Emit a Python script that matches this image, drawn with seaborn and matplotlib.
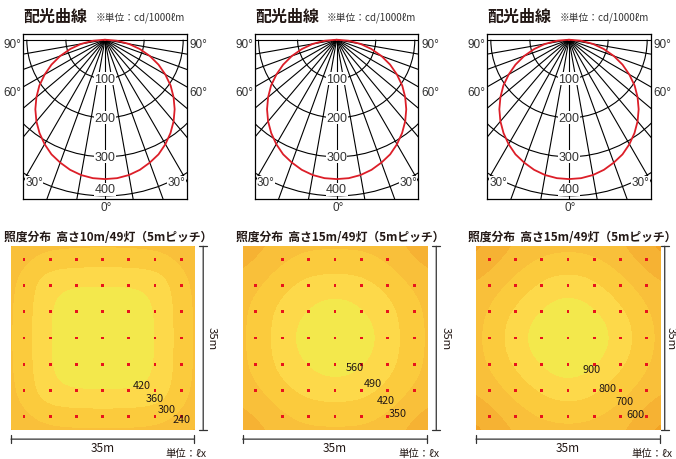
import numpy as np
import pandas as pd
import matplotlib
matplotlib.use("Agg")
import matplotlib.pyplot as plt
import seaborn as sns
from matplotlib.colors import ListedColormap, BoundaryNorm
from matplotlib.patches import Arc

# ---- 配光曲線 data (cd/1000lm), angle from straight down ----
angles = [0, 5, 10, 15, 20, 25, 30, 35, 40, 45, 50, 55, 60, 65, 70, 75, 80, 85, 90]
intensity = [357, 356, 352, 345, 335, 324, 309, 292, 273, 252, 229, 205, 178, 151, 122, 92, 62, 31, 0]
rings = [100, 200, 300, 400]
spokes = list(range(-90, 91, 10))

# ---- 照度分布 data (lx) ----
# lamps on a 5m pitch, lux read every 5m (x = 0,5,10,15 / y = 0,5,10,15), square is symmetric
lamp_pos = [2.5, 7.5, 12.5, 17.5, 22.5, 27.5, 32.5]
lux_10m = [[220, 270, 278, 280],
           [270, 365, 378, 382],
           [278, 378, 450, 455],
           [280, 382, 455, 470]]
lux_15m = [[300, 347, 395, 400],
           [347, 412, 472, 487],
           [395, 472, 520, 567],
           [400, 487, 567, 610]]
lux_15m_b = [[450, 560, 640, 660],
             [560, 652, 732, 793],
             [640, 732, 825, 915],
             [660, 793, 915, 980]]
levels_10m = [240, 300, 360, 420]
levels_15m = [350, 420, 490, 560]
levels_15m_b = [500, 600, 700, 800, 900]
label_text_10m = ["420", "360", "300", "240"]
label_text_15m = ["560", "490", "420", "350"]
label_text_15m_b = ["900", "800", "700", "600"]
label_xy_10m = [(25.0, 26.4), (27.4, 29.0), (29.7, 31.1), (32.5, 33.0)]
label_xy_15m = [(21.3, 23.0), (24.6, 26.1), (27.2, 29.4), (29.4, 31.8)]
label_xy_15m_b = [(22.0, 23.5), (25.1, 27.0), (28.2, 29.6), (30.4, 32.0)]
map_titles = ["照度分布  高さ10m/49灯（5mピッチ）",
              "照度分布  高さ15m/49灯（5mピッチ）",
              "照度分布  高さ15m/49灯（5mピッチ）"]

band_colors = ["#F3A325", "#F6B233", "#F9C03A", "#FBCB3D", "#FDD94A", "#F3E84C"]
red = "#DC1E28"
ink = "#231815"
latin = ["Liberation Sans", "DejaVu Sans"]

sns.set_theme(style="white")
plt.rcParams["font.family"] = ["Noto Sans CJK JP", "DejaVu Sans"]

W, H = 676, 460
fig = plt.figure(figsize=(W / 100, H / 100), dpi=100)


def px_axes(x0, y0, x1, y1):
    return fig.add_axes([x0 / W, 1 - y1 / H, (x1 - x0) / W, (y1 - y0) / H])


def draw_polar(ax):
    ax.set_xlim(-209, 209)
    ax.set_ylim(-408, 14.6)
    for a in spokes:
        t = np.radians(a)
        ax.plot([0, 1000 * np.sin(t)], [0, -1000 * np.cos(t)], color="black", lw=0.8, zorder=1)
    for r in rings:
        ax.add_patch(Arc((0, 0), 2 * r, 2 * r, theta1=180, theta2=360, color="black", lw=0.8, zorder=1))
    # red curve, mirrored for both sides
    th = np.radians([-a for a in angles[::-1]] + angles[1:])
    rr = np.array(intensity[::-1] + intensity[1:])
    curve = pd.DataFrame({"x": rr * np.sin(th), "y": -rr * np.cos(th)})
    sns.lineplot(data=curve, x="x", y="y", sort=False, estimator=None, color=red, lw=1.3, ax=ax, zorder=3)
    for r in rings:
        ax.text(0, -min(r, 383), str(r), ha="center", va="center", fontsize=9, color="#333333",
                family=latin, bbox=dict(facecolor="white", edgecolor="none", pad=0.3), zorder=4)
    lab = dict(fontsize=8.5, color="#333333", ha="center", va="center", clip_on=False, family=latin)
    ax.text(-236, -11, "90°", **lab)
    ax.text(240, -11, "90°", **lab)
    ax.text(-236, -135, "60°", **lab)
    ax.text(240, -135, "60°", **lab)
    ax.text(-181, -365, "30°", bbox=dict(facecolor="white", edgecolor="none", pad=0.2), zorder=4, **lab)
    ax.text(183, -365, "30°", bbox=dict(facecolor="white", edgecolor="none", pad=0.2), zorder=4, **lab)
    ax.text(3, -428, "0°", **lab)
    ax.set(xlabel="", ylabel="", xticks=[], yticks=[])
    for s in ax.spines.values():
        s.set_visible(True)
        s.set_color("black")
        s.set_linewidth(0.9)


def draw_map(ax, quarter, levels, texts, text_xy, skip_corners=False, line_x=36.7, label_x=38.4):
    q = np.array(quarter, float)
    half = np.vstack([q, q[::-1]])
    grid = np.hstack([half, half[:, ::-1]])
    cols = band_colors[-(len(levels) + 1):]
    cmap = ListedColormap(cols)
    norm = BoundaryNorm([0] + levels + [5000], cmap.N)
    ax.imshow(grid, cmap=cmap, norm=norm, interpolation="bicubic", interpolation_stage="data",
              extent=(-2.5, 37.5, 37.5, -2.5), aspect="auto")
    lx, ly = np.meshgrid(lamp_pos, lamp_pos)
    lx, ly = lx.ravel(), ly.ravel()
    if skip_corners:
        keep = ~(np.isin(lx, [2.5, 32.5]) & np.isin(ly, [2.5, 32.5]))
        lx, ly = lx[keep], ly[keep]
    sns.scatterplot(x=lx, y=ly, marker="s", s=4, color="#E8141C", edgecolor="none", ax=ax, zorder=3)
    for s, (x, y) in zip(texts, text_xy):
        ax.text(x, y, s, ha="center", va="center", fontsize=7.8, color=ink, zorder=4)
    ax.set_xlim(0, 35)
    ax.set_ylim(35, 0)
    ax.set(xlabel="", ylabel="")
    ax.set_axis_off()
    dim = dict(arrowstyle="|-|,widthA=0.3,widthB=0.3", lw=0.9, color="#333333",
               shrinkA=0, shrinkB=0, mutation_scale=10)
    ax.annotate("", xy=(0, 36.8), xytext=(35, 36.8), arrowprops=dim, annotation_clip=False)
    ax.annotate("", xy=(line_x, 0), xytext=(line_x, 35), arrowprops=dim, annotation_clip=False)
    ax.text(17.5, 38.4, "35m", ha="center", va="center", fontsize=8.5, color=ink, clip_on=False)
    ax.text(label_x, 17.5, "35m", ha="center", va="center", rotation=270, fontsize=8.2,
            color=ink, clip_on=False)
    ax.text(33.4, 39.4, "単位：ℓx", ha="center", va="center", fontsize=7.5, color=ink, clip_on=False)


polar_boxes = [(23.3, 35, 186.7, 200), (255, 35, 418.3, 200), (487.3, 35, 650.7, 200)]
map_boxes = [(11, 247.3, 194.3, 430.7), (242.7, 247.3, 427.3, 430.7), (476, 247.3, 660, 430.7)]
map_title_x = [4, 236, 468]
right_line_x = [36.7, 36.7, 35.9]
right_label_x = [38.4, 38.4, 37.0]

for (x0, y0, x1, y1) in polar_boxes:
    ax = px_axes(x0, y0, x1, y1)
    draw_polar(ax)
    fig.text(x0 / W, 1 - 16.5 / H, "配光曲線", fontsize=11.5, fontweight="bold", color=ink, va="center")
    fig.text((x0 + 72) / W, 1 - 17.5 / H, "※単位：cd/1000ℓm", fontsize=7, color="#333333", va="center")

map_data = [(lux_10m, levels_10m, label_text_10m, label_xy_10m, False),
            (lux_15m, levels_15m, label_text_15m, label_xy_15m, True),
            (lux_15m_b, levels_15m_b, label_text_15m_b, label_xy_15m_b, False)]
for i, (box, tx, title, (qd, lv, tt, txy, sk)) in enumerate(zip(map_boxes, map_title_x, map_titles, map_data)):
    ax = px_axes(*box)
    draw_map(ax, qd, lv, tt, txy, sk, right_line_x[i], right_label_x[i])
    fig.text(tx / W, 1 - 238 / H, title, fontsize=8.5, fontweight="bold", color=ink, va="center")

fig.savefig("out.png", dpi=100, facecolor="white")
